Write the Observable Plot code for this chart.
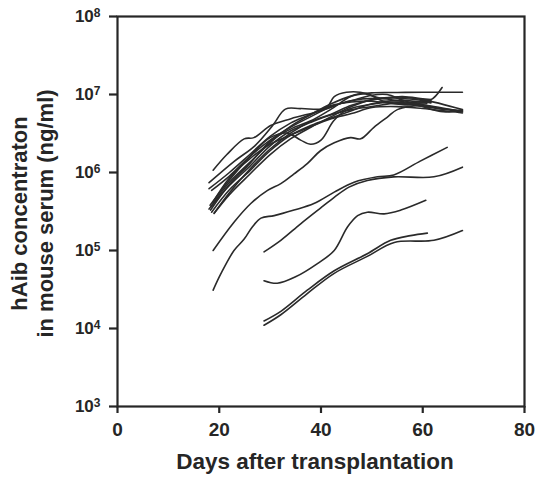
<!DOCTYPE html>
<html>
<head>
<meta charset="utf-8">
<script src="https://cdn.jsdelivr.net/npm/d3@7"></script>
<script src="https://cdn.jsdelivr.net/npm/@observablehq/plot@0.6"></script>
<style>
  html, body { margin: 0; padding: 0; background: #fff; }
</style>
</head>
<body>
<div id="chart"></div>
<script>
// Axis ticks
const xTicks = [0, 20, 40, 60, 80];
const yTicks = [1e3, 1e4, 1e5, 1e6, 1e7, 1e8];

// Individual mice: [day, hAib ng/ml]
const mA = [[18.8,3.1e4],[20.3,5.0e4],[22.9,1.0e5],[24.9,1.4e5],[26.5,2.0e5],[28.2,2.6e5],[30.8,2.8e5],[34.7,3.3e5],[38.6,4.0e5],[42.6,5.6e5],[46.5,7.5e5],[51.1,8.8e5],[54.3,9.3e5],[59.5,1.4e6],[64.8,2.1e6]];
const mB = [[18.8,1.0e5],[22.9,2.3e5],[26.2,4.0e5],[29.5,5.9e5],[32.1,7.2e5],[34.7,9.6e5],[37.3,1.3e6],[39.9,1.9e6],[42.6,2.4e6],[45.8,2.8e6],[47.8,2.7e6],[50.4,3.8e6],[53.0,5.1e6],[55.0,6.4e6],[59.6,7.2e6],[63.5,6.6e6],[67.8,6.2e6]];
const mC = [[28.8,9.6e4],[32.1,1.35e5],[36.0,2.2e5],[39.9,3.5e5],[42.6,4.8e5],[45.5,6.5e5],[49.1,7.9e5],[54.3,8.8e5],[62.2,8.8e5],[67.8,1.17e6]];
const mD = [[28.8,4.1e4],[31.4,3.8e4],[35.0,4.6e4],[39.3,6.8e4],[42.6,1.0e5],[45.2,2.0e5],[47.2,2.8e5],[49.1,3.1e5],[52.4,2.95e5],[55.7,3.3e5],[60.6,4.4e5]];
const mE = [[28.8,1.25e4],[32.1,1.66e4],[37.3,3.1e4],[42.6,5.5e4],[49.1,9.1e4],[53.7,1.35e5],[57.6,1.55e5],[60.9,1.67e5]];
const mF = [[28.8,1.1e4],[32.1,1.5e4],[37.3,2.8e4],[42.6,5.1e4],[49.1,8.4e4],[54.4,1.27e5],[62.2,1.35e5],[67.8,1.8e5]];
const m01 = [[18.8,1.07e6],[21.5,1.7e6],[24.9,2.7e6],[26.8,2.8e6],[30.1,4.0e6],[34.1,4.9e6],[40.0,6.2e6],[45.8,8.3e6],[51.7,8.9e6],[57.6,7.9e6],[61.6,8.3e6]];
const m02 = [[18.0,7.4e5],[23.0,1.4e6],[27.0,2.2e6],[30.5,4.0e6],[33.0,6.5e6],[36.0,6.6e6],[41.0,6.7e6],[42.6,9.4e6],[45.0,1.07e7],[49.0,1.03e7],[52.0,8.3e6],[56.0,7.4e6],[60.8,7.6e6]];
const m03 = [[18.3,3.3e5],[22.0,7.0e5],[26.0,1.3e6],[30.0,2.5e6],[34.0,3.6e6],[38.0,4.6e6],[42.0,6.5e6],[46.0,9.5e6],[50.0,1.05e7],[55.0,1.06e7],[60.0,1.07e7],[67.8,1.07e7]];
const m04 = [[19.0,3.0e5],[22.0,5.5e5],[26.0,1.1e6],[30.0,2.0e6],[34.0,3.2e6],[38.0,4.5e6],[42.0,5.6e6],[46.0,7.3e6],[50.0,8.5e6],[54.0,9.0e6],[58.0,8.7e6],[61.5,8.5e6],[63.8,1.23e7]];
const m05 = [[18.2,3.8e5],[22.0,8.0e5],[26.0,1.6e6],[30.0,2.8e6],[33.4,3.2e6],[36.0,2.6e6],[38.0,2.3e6],[40.0,2.6e6],[42.5,4.6e6],[45.0,6.3e6],[50.0,7.5e6],[55.0,8.0e6],[60.0,7.0e6],[67.8,6.0e6]];
const m06 = [[18.5,5.9e5],[22.0,9.0e5],[26.0,1.6e6],[30.0,2.6e6],[34.0,3.8e6],[38.0,5.2e6],[42.0,7.0e6],[46.0,8.3e6],[50.0,9.8e6],[53.0,1.0e7],[56.0,8.5e6],[60.0,7.0e6],[64.0,6.0e6],[67.8,6.3e6]];
const m07 = [[18.0,3.4e5],[22.0,6.8e5],[26.0,1.2e6],[30.0,2.2e6],[34.0,3.4e6],[38.0,4.4e6],[42.0,5.5e6],[46.0,6.4e6],[50.0,7.0e6],[55.0,7.8e6],[60.0,7.4e6],[67.8,6.0e6]];
const m08 = [[18.5,3.1e5],[22.0,6.0e5],[26.0,1.05e6],[30.0,1.9e6],[34.0,3.0e6],[38.0,4.0e6],[42.0,5.0e6],[46.0,6.2e6],[50.0,7.6e6],[55.0,8.4e6],[60.0,8.0e6],[61.6,7.8e6]];
const m09 = [[19.0,3.0e5],[22.0,5.2e5],[26.0,9.5e5],[30.0,1.7e6],[34.0,2.7e6],[38.0,3.8e6],[42.0,5.2e6],[46.0,7.0e6],[50.0,8.6e6],[55.0,9.3e6],[60.0,8.6e6],[67.8,6.4e6]];
const m10 = [[18.3,3.6e5],[22.0,7.5e5],[26.0,1.35e6],[30.0,2.4e6],[34.0,3.9e6],[38.0,5.5e6],[42.0,7.2e6],[46.0,8.0e6],[50.0,8.2e6],[55.0,7.6e6],[60.0,7.8e6],[61.6,8.0e6]];
const m11 = [[18.8,4.2e5],[22.0,8.5e5],[26.0,1.5e6],[30.0,2.3e6],[34.0,3.0e6],[38.0,3.9e6],[42.0,4.9e6],[46.0,5.7e6],[50.0,6.8e6],[55.0,7.0e6],[60.0,6.6e6],[67.8,5.8e6]];
const m12 = [[18.0,6.2e5],[22.0,1.0e6],[26.0,1.7e6],[30.0,2.9e6],[34.0,4.3e6],[38.0,5.6e6],[42.0,7.6e6],[46.0,9.6e6],[48.0,1.03e7],[52.0,9.0e6],[56.0,9.4e6],[60.0,8.8e6],[61.6,8.6e6]];

const mice = {mA, mB, mC, mD, mE, mF, m01, m02, m03, m04, m05, m06, m07, m08, m09, m10, m11, m12};
const rows = Object.entries(mice).flatMap(([id, pts]) => pts.map(([day, value]) => ({id, day, value})));

const font = "'Liberation Sans', Arial, Helvetica, sans-serif";
const ink = "#262626";

const chart = Plot.plot({
  width: 539,
  height: 481,
  marginLeft: 117,
  marginRight: 15,
  marginTop: 16,
  marginBottom: 75,
  style: {fontFamily: font, color: ink, background: "#fff", overflow: "visible"},
  x: {domain: [0, 80]},
  y: {type: "log", domain: [1e3, 1e8]},
  marks: [
    Plot.line(rows, {x: "day", y: "value", z: "id", curve: "catmull-rom", stroke: "#2a2a2a", strokeWidth: 1.6}),
    Plot.frame({stroke: ink, strokeWidth: 2.2}),
    Plot.axisX({ticks: xTicks, tickSize: 7, tickPadding: 9, strokeWidth: 2.2, fontSize: 19, fontWeight: "bold", label: null, tickFormat: d => String(d)}),
    Plot.axisY({ticks: yTicks, tickSize: 8, tickPadding: 9, strokeWidth: 2.2, fontSize: 17, fontWeight: "bold", label: null, tickFormat: d => "E" + Math.round(Math.log10(d))}),
    Plot.text(["Days after transplantation"], {frameAnchor: "bottom", textAnchor: "middle", dx: -6, dy: 62, fontSize: 22.5, fontWeight: "bold", fill: ink}),
    Plot.text(["hAib concentraton"], {frameAnchor: "left", textAnchor: "middle", rotate: -90, dx: -98, dy: 2, fontSize: 22, fontWeight: "bold", fill: ink}),
    Plot.text(["in mouse serum (ng/ml)"], {frameAnchor: "left", textAnchor: "middle", rotate: -90, dx: -72, dy: 2, fontSize: 22, fontWeight: "bold", fill: ink})
  ]
});

// Render exponent as superscript
d3.select(chart).selectAll("g[aria-label='y-axis tick label'] text").each(function() {
  const t = d3.select(this);
  const s = t.text();
  if (s.startsWith("E")) {
    const e = s.slice(1);
    t.text("10");
    t.append("tspan").attr("dy", "-0.45em").attr("font-size", "12px").text(e);
  }
});

document.getElementById("chart").appendChild(chart);
</script>
</body>
</html>
